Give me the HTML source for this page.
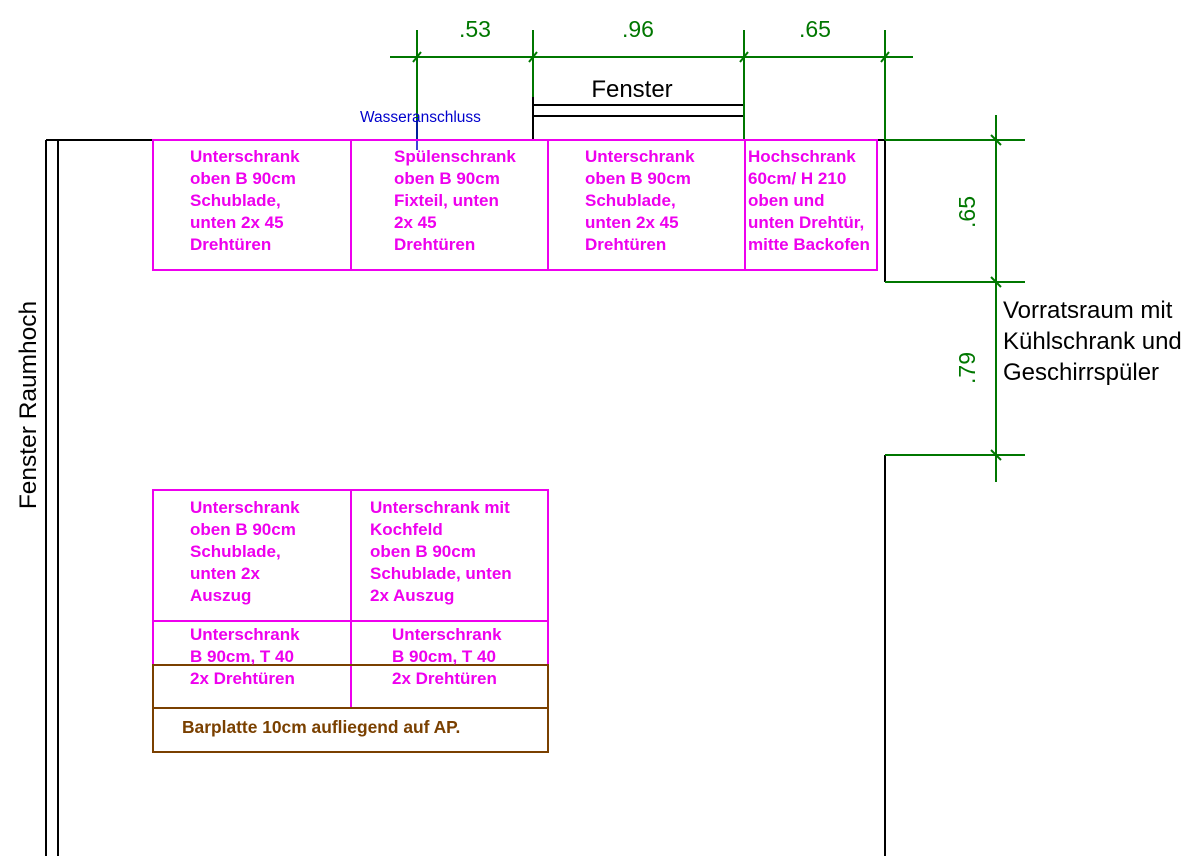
<!DOCTYPE html>
<html><head><style>body{margin:0;background:#fff}svg{display:block}</style></head><body>
<svg width="1189" height="856" xmlns="http://www.w3.org/2000/svg" font-family="Liberation Sans, Arial, sans-serif">
<rect width="1189" height="856" fill="#fff"/>
<g stroke="#000" stroke-width="2" fill="none">
<path d="M46 140H153M46 140V856M58 140V856"/>
<path d="M533 97V140M533 105H744M533 116H744"/>
<path d="M877 140H885M885 140V282M885 455V856"/>
</g>
<g stroke="#007700" stroke-width="2" fill="none">
<path d="M390 57H913M417 30V140M533 30V97M744 30V140M885 30V140"/>
<path d="M885 140H1025M885 282H1025M885 455H1025M996 115V482"/>
<path d="M413 62L421 52M529 62L537 52M740 62L748 52M881 62L889 52"/>
<path d="M991 135L1001 145M991 277L1001 287M991 450L1001 460"/>
</g>
<g fill="#007700" font-size="23">
<text x="475" y="37" text-anchor="middle">.53</text>
<text x="638" y="37" text-anchor="middle">.96</text>
<text x="815" y="37" text-anchor="middle">.65</text>
<text transform="translate(975,212) rotate(-90)" text-anchor="middle">.65</text>
<text transform="translate(975,368) rotate(-90)" text-anchor="middle">.79</text>
</g>
<text x="632" y="97" font-size="24" text-anchor="middle">Fenster</text>
<text x="360" y="122" font-size="15.5" fill="#0000cc">Wasseranschluss</text>
<path d="M417 120V150" stroke="#0000cc" stroke-width="1.5"/>
<text transform="translate(36,405) rotate(-90)" font-size="24.5" text-anchor="middle">Fenster Raumhoch</text>
<g font-size="24"><text x="1003" y="318">Vorratsraum mit</text><text x="1003" y="349">Kühlschrank und</text><text x="1003" y="380">Geschirrspüler</text></g>
<g stroke="#ee00ee" stroke-width="2" fill="none">
<rect x="153" y="140" width="724" height="130"/>
<path d="M351 140V270M548 140V270M745 140V270"/>
<path d="M153 490H548V708H153ZM153 621H548M351 490V708"/>
</g>
<g stroke="#7a4000" stroke-width="2" fill="none"><path d="M153 665H548V752H153ZM153 708H548"/></g>
<g fill="#ee00ee" font-size="17" font-weight="bold">
<text x="190" y="162">Unterschrank</text><text x="190" y="184">oben B 90cm</text><text x="190" y="206">Schublade,</text><text x="190" y="228">unten 2x 45</text><text x="190" y="250">Drehtüren</text>
<text x="394" y="162">Spülenschrank</text><text x="394" y="184">oben B 90cm</text><text x="394" y="206">Fixteil, unten</text><text x="394" y="228">2x 45</text><text x="394" y="250">Drehtüren</text>
<text x="585" y="162">Unterschrank</text><text x="585" y="184">oben B 90cm</text><text x="585" y="206">Schublade,</text><text x="585" y="228">unten 2x 45</text><text x="585" y="250">Drehtüren</text>
<text x="748" y="162">Hochschrank</text><text x="748" y="184">60cm/ H 210</text><text x="748" y="206">oben und</text><text x="748" y="228">unten Drehtür,</text><text x="748" y="250">mitte Backofen</text>
<text x="190" y="513">Unterschrank</text><text x="190" y="535">oben B 90cm</text><text x="190" y="557">Schublade,</text><text x="190" y="579">unten 2x</text><text x="190" y="601">Auszug</text>
<text x="370" y="513">Unterschrank mit</text><text x="370" y="535">Kochfeld</text><text x="370" y="557">oben B 90cm</text><text x="370" y="579">Schublade, unten</text><text x="370" y="601">2x Auszug</text>
<text x="190" y="640">Unterschrank</text><text x="190" y="662">B 90cm, T 40</text><text x="190" y="684">2x Drehtüren</text>
<text x="392" y="640">Unterschrank</text><text x="392" y="662">B 90cm, T 40</text><text x="392" y="684">2x Drehtüren</text>
</g>
<text x="182" y="733" font-size="17.4" font-weight="bold" fill="#7a4000">Barplatte 10cm aufliegend auf AP.</text>
</svg>
</body></html>
